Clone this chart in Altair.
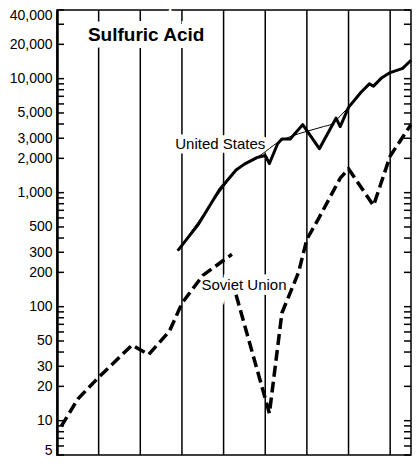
import altair as alt
import pandas as pd

# ---- data ----
us_years = [1899, 1904, 1909, 1913, 1915, 1918, 1920, 1921, 1923, 1924, 1926, 1929, 1930,
            1933, 1937, 1938, 1940, 1943, 1945, 1946, 1948, 1950, 1953, 1955]
us_values = [310, 530, 1060, 1580, 1780, 2030, 2120, 1800, 2700, 2950, 2950, 3950, 3500,
             2430, 4500, 3800, 5600, 7600, 9000, 8600, 10200, 11300, 12300, 14500]

trend_years = [1899, 1904, 1909, 1913, 1916, 1919, 1923, 1926, 1930, 1934, 1936, 1938, 1940]
trend_values = [310, 560, 1000, 1550, 1850, 2150, 2750, 3100, 3450, 3800, 4000, 4700, 5600]

su_years_a = [1871, 1875, 1880, 1888, 1892, 1897, 1900, 1905, 1912]
su_values_a = [8.9, 15.5, 24, 46, 38, 61, 107, 188, 288]

su_years_b = [1913, 1921, 1924, 1925, 1928, 1930, 1933, 1938, 1940, 1946, 1950, 1955]
su_values_b = [127, 11.6, 88, 108, 200, 390, 610, 1340, 1620, 770, 2100, 3950]

grid_years = [1880, 1890, 1900, 1910, 1920, 1930, 1940, 1950]
label_values = [5, 10, 20, 30, 50, 100, 200, 300, 500, 1000, 2000, 3000, 5000,
                10000, 20000, 40000]
tick_values = ([5, 6, 7, 8, 9] + [m * 10 for m in range(1, 10)] + [m * 100 for m in range(1, 10)]
               + [m * 1000 for m in range(1, 10)] + [10000, 20000, 30000, 40000])

ann_text = ["United States", "Soviet Union"]
ann_year = [1909.2, 1914.9]
ann_value = [2675, 154]

title_text = ["Sulfuric Acid"]
title_year = [1891.4]
title_value = [24000]

# ---- tables ----
us_df = pd.DataFrame({"year": us_years, "value": us_values})
trend_df = pd.DataFrame({"year": trend_years, "value": trend_values})
su_df = pd.concat([
    pd.DataFrame({"year": su_years_a, "value": su_values_a, "seg": "a"}),
    pd.DataFrame({"year": su_years_b, "value": su_values_b, "seg": "b"}),
])
ticks_df = pd.DataFrame({"value": tick_values})
labels_df = pd.DataFrame({"value": label_values})
ann_df = pd.DataFrame({"label": ann_text, "year": ann_year, "value": ann_value})
title_df = pd.DataFrame({"label": title_text, "year": title_year, "value": title_value})
grid_df = pd.DataFrame({"year": grid_years})

W, H = 354, 445
FONT = "Liberation Sans"

xs = alt.Scale(domain=[1870, 1955], nice=False, zero=False)
ys = alt.Scale(type="log", domain=[5, 40000], nice=False)

yaxis = alt.Axis(values=label_values, format=",", ticks=False, domain=True,
                 domainColor="black", domainWidth=2.5, grid=False, title=None,
                 labelFont=FONT, labelFontSize=14, labelColor="black",
                 labelPadding=5, labelFlush=True, labelFlushOffset=2)

X0 = alt.X("year:Q", scale=xs, axis=None)
Y0 = alt.Y("value:Q", scale=ys, axis=yaxis)

grid = alt.Chart(grid_df).mark_rule(color="black", strokeWidth=1.5).encode(
    x=X0, y=alt.value(0), y2=alt.value(H))

axis_layer = alt.Chart(labels_df).mark_point(opacity=0).encode(
    x=alt.value(0), y=Y0)

ticks_left = alt.Chart(ticks_df).mark_rule(color="black", strokeWidth=1.5).encode(
    y=Y0, x=alt.value(0), x2=alt.value(7))
ticks_right = alt.Chart(ticks_df).mark_rule(color="black", strokeWidth=1.5).encode(
    y=Y0, x=alt.value(W), x2=alt.value(W - 7))

title_halo = alt.Chart(title_df).mark_text(
    font=FONT, fontSize=19, fontWeight="bold", stroke="white", strokeWidth=14,
    fill="white", align="center", baseline="middle").encode(x=X0, y=Y0, text="label:N")
ann_halo = alt.Chart(ann_df).mark_text(
    font=FONT, fontSize=15, stroke="white", strokeWidth=9, fill="white",
    align="center", baseline="middle").encode(x=X0, y=Y0, text="label:N")

trend = alt.Chart(trend_df).mark_line(color="black", strokeWidth=1, interpolate="monotone").encode(
    x=X0, y=Y0)
us = alt.Chart(us_df).mark_line(color="black", strokeWidth=3, strokeJoin="round").encode(
    x=X0, y=Y0)
su = alt.Chart(su_df).mark_line(color="black", strokeWidth=3.5, strokeDash=[11, 5]).encode(
    x=X0, y=Y0, detail="seg:N")

title_txt = alt.Chart(title_df).mark_text(
    font=FONT, fontSize=19, fontWeight="bold", color="black",
    align="center", baseline="middle").encode(x=X0, y=Y0, text="label:N")
ann_txt = alt.Chart(ann_df).mark_text(
    font=FONT, fontSize=15, color="black",
    align="center", baseline="middle").encode(x=X0, y=Y0, text="label:N")

chart = alt.layer(
    grid, axis_layer, ticks_left, ticks_right, title_halo, ann_halo,
    trend, us, su, title_txt, ann_txt,
).properties(
    width=W, height=H,
    autosize=alt.AutoSizeParams(type="none"),
    padding={"left": 49, "top": 2, "right": 1, "bottom": 3},
    background="white",
).configure_view(stroke="black", strokeWidth=1.5)

chart.save("out.html", embed_options={"renderer": "svg", "actions": False})
